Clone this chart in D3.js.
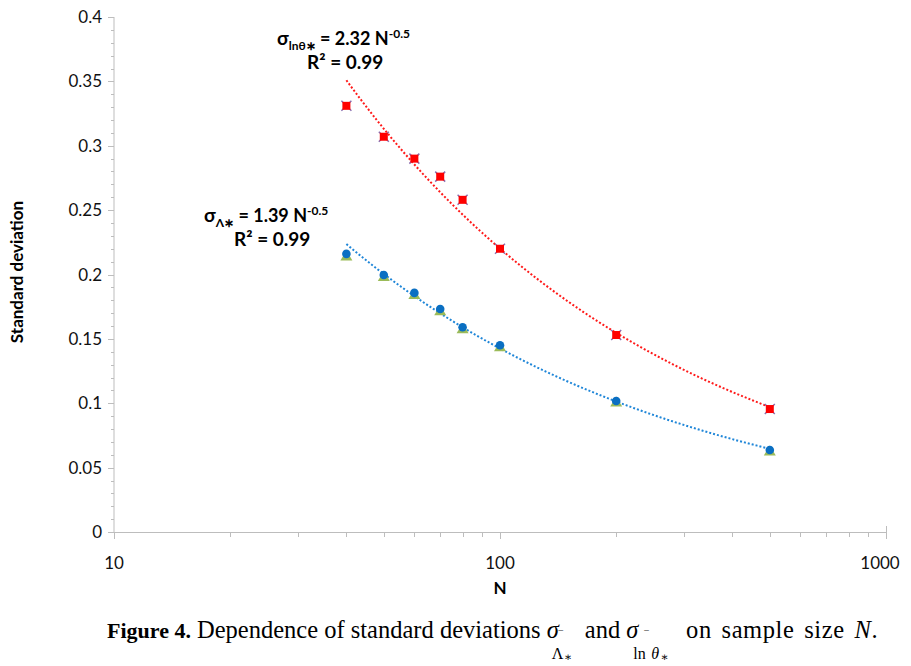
<!DOCTYPE html>
<html>
<head>
<meta charset="utf-8">
<script src="https://cdn.jsdelivr.net/npm/d3@7/dist/d3.min.js"></script>
<style>
  body { margin: 0; background: #fff; }
  svg { display: block; }
  .tick-lbl { font-family: Lato, "Open Sans", sans-serif; font-size: 17px; fill: #111; }
  .ann { font-family: Lato, "Open Sans", sans-serif; font-weight: bold; font-size: 19px; fill: #000; }
  .cap { font-family: "Liberation Serif", "DejaVu Serif", serif; font-size: 24.5px; fill: #000; }
</style>
</head>
<body>
<svg id="chart"></svg>
<script>
// sample sizes
var nValues = [40, 50, 60, 70, 80, 100, 200, 500];
// std. dev. of ln theta* (red squares, purple crosses)
var sdLnTheta  = [0.331, 0.307, 0.290, 0.276, 0.258, 0.220, 0.153, 0.0955];
var sdLnThetaX = [0.331, 0.307, 0.290, 0.276, 0.258, 0.220, 0.153, 0.0955];
// std. dev. of Lambda* (blue circles, green triangles)
var sdLambda    = [0.216, 0.1996, 0.1857, 0.1732, 0.159, 0.145, 0.1017, 0.0637];
var sdLambdaTri = [0.2140, 0.1980, 0.1840, 0.1715, 0.1575, 0.1435, 0.1005, 0.0625];

var yTicks = [0, 0.05, 0.1, 0.15, 0.2, 0.25, 0.3, 0.35, 0.4];
var xTicks = [10, 100, 1000];

var W = 911, H = 666;
var svg = d3.select("#chart").attr("width", W).attr("height", H);

var x = d3.scaleLog().domain([10, 1000]).range([114, 886]);
var y = d3.scaleLinear().domain([0, 0.4]).range([532, 17]);

var axisCol = "#bdbdbd";

// y axis
var yMinor = d3.range(0, 0.4001, 0.01);
svg.append("line").attr("x1", x(10)).attr("x2", x(10)).attr("y1", y(0)).attr("y2", y(0.4))
  .attr("stroke", axisCol).attr("stroke-width", 1);
svg.selectAll(".yminor").data(yMinor).enter().append("line")
  .attr("x1", x(10) - 3).attr("x2", x(10))
  .attr("y1", function(d) { return Math.round(y(d)) + 0.5; })
  .attr("y2", function(d) { return Math.round(y(d)) + 0.5; })
  .attr("stroke", axisCol);
svg.selectAll(".ymajor").data(yTicks).enter().append("line")
  .attr("x1", x(10) - 6).attr("x2", x(10))
  .attr("y1", function(d) { return Math.round(y(d)) + 0.5; })
  .attr("y2", function(d) { return Math.round(y(d)) + 0.5; })
  .attr("stroke", axisCol);
svg.selectAll(".ylbl").data(yTicks).enter().append("text")
  .attr("class", "tick-lbl")
  .attr("x", x(10) - 12).attr("y", function(d) { return y(d) + 6; })
  .attr("text-anchor", "end")
  .text(function(d) { return d3.format("")(d); });

// x axis (log)
var xMinor = [];
[10, 100].forEach(function(dec) { for (var k = 2; k <= 9; k++) xMinor.push(dec * k); });
svg.append("line").attr("x1", x(10)).attr("x2", x(1000)).attr("y1", y(0) + 0.5).attr("y2", y(0) + 0.5)
  .attr("stroke", axisCol);
svg.selectAll(".xminor").data(xMinor).enter().append("line")
  .attr("x1", function(d) { return Math.round(x(d)) + 0.5; })
  .attr("x2", function(d) { return Math.round(x(d)) + 0.5; })
  .attr("y1", y(0)).attr("y2", y(0) + 5)
  .attr("stroke", axisCol);
svg.selectAll(".xmajor").data(xTicks).enter().append("line")
  .attr("x1", function(d) { return Math.round(x(d)) + 0.5; })
  .attr("x2", function(d) { return Math.round(x(d)) + 0.5; })
  .attr("y1", function(d) { return d === 1000 ? y(0) - 6 : y(0); })
  .attr("y2", y(0) + 7)
  .attr("stroke", axisCol);
svg.selectAll(".xlbl").data(xTicks).enter().append("text")
  .attr("class", "tick-lbl")
  .attr("x", function(d) { return x(d) - (d === 1000 ? 6 : 0); })
  .attr("y", y(0) + 37)
  .attr("text-anchor", "middle")
  .text(function(d) { return d; });

// axis titles
svg.append("text").attr("x", x(100)).attr("y", 594).attr("text-anchor", "middle")
  .style("font-family", "Lato, sans-serif").style("font-weight", "bold").style("font-size", "17px")
  .text("N");
svg.append("text").attr("transform", "translate(23,272) rotate(-90)").attr("text-anchor", "middle")
  .style("font-family", "Lato, sans-serif").style("font-weight", "bold").style("font-size", "17px")
  .text("Standard deviation");

// power trendline (least squares on logs, like Excel)
function powerFit(xs, ys) {
  var lx = xs.map(Math.log), ly = ys.map(Math.log);
  var mx = d3.mean(lx), my = d3.mean(ly);
  var sxy = d3.sum(lx, function(v, i) { return (v - mx) * (ly[i] - my); });
  var sxx = d3.sum(lx, function(v) { return (v - mx) * (v - mx); });
  var b = sxy / sxx;
  var a = Math.exp(my - b * mx);
  return function(n) { return a * Math.pow(n, b); };
}
function trend(ys, col) {
  var f = powerFit(nValues, ys);
  var lo = Math.log(nValues[0]), hi = Math.log(nValues[nValues.length - 1]);
  var ns = d3.range(0, 101).map(function(i) { return Math.exp(lo + i / 100 * (hi - lo)); });
  var line = d3.line().x(function(n) { return x(n); }).y(function(n) { return y(f(n)); });
  svg.append("path").attr("d", line(ns)).attr("fill", "none")
    .attr("stroke", col).attr("stroke-width", 2).attr("stroke-dasharray", "2,2");
}
trend(sdLnTheta, "#ff1a1a");
trend(sdLambda, "#1f86d8");

// markers
var pairsLn = nValues.map(function(n, i) { return [n, sdLnTheta[i]]; });
var pairsLnX = nValues.map(function(n, i) { return [n, sdLnThetaX[i]]; });
var pairsL = nValues.map(function(n, i) { return [n, sdLambda[i]]; });
var pairsLT = nValues.map(function(n, i) { return [n, sdLambdaTri[i]]; });

svg.selectAll(".xmk").data(pairsLnX).enter().append("path")
  .attr("transform", function(d) { return "translate(" + x(d[0]) + "," + y(d[1]) + ")"; })
  .attr("d", "M-5,-5L5,5M-5,5L5,-5")
  .attr("stroke", "#8a6fb0").attr("stroke-width", 1.5);
svg.selectAll(".sq").data(pairsLn).enter().append("rect")
  .attr("x", function(d) { return x(d[0]) - 4; })
  .attr("y", function(d) { return y(d[1]) - 4; })
  .attr("width", 8).attr("height", 8)
  .attr("fill", "#ff0000");

svg.selectAll(".tri").data(pairsLT).enter().append("path")
  .attr("transform", function(d) { return "translate(" + x(d[0]) + "," + y(d[1]) + ")"; })
  .attr("d", "M0,-6L6,4L-6,4Z")
  .attr("fill", "#9bbb59");
svg.selectAll(".dot").data(pairsL).enter().append("circle")
  .attr("cx", function(d) { return x(d[0]); })
  .attr("cy", function(d) { return y(d[1]); })
  .attr("r", 4.3)
  .attr("fill", "#0a6fc2");

// equation labels
function eqLabel(xp, yp, sub, coef) {
  var t = svg.append("text").attr("class", "ann").attr("x", xp).attr("y", yp).style("font-size", "18px");
  t.append("tspan").style("font-size", "19px").text("σ");
  t.append("tspan").attr("dy", 5).style("font-size", "12px").text(sub);
  t.append("tspan").attr("dy", -5).text(" = " + coef + " N");
  t.append("tspan").attr("dy", -7).style("font-size", "12px").text("-0.5");
  svg.append("text").attr("class", "ann").attr("x", xp + 30).attr("y", yp + 24).text("R² = 0.99");
}
eqLabel(277, 45, "lnθ∗", "2.32");
eqLabel(204, 222, "Λ∗", "1.39");

// caption
var cap = svg.append("g");
var cx = 107, cy = 638;
function put(txt, opts) {
  opts = opts || {};
  var t = cap.append("text").attr("class", "cap").attr("x", opts.x != null ? opts.x : cx).attr("y", cy + (opts.dy || 0))
    .style("white-space", "pre").text(txt);
  if (opts.bold) t.style("font-weight", "bold");
  if (opts.italic) t.style("font-style", "italic");
  if (opts.size) t.style("font-size", opts.size + "px");
  var w = t.node().getComputedTextLength();
  if (!opts.noAdvance) cx += w;
  return t;
}
put("Figure 4.", { bold: true, size: 22 });
put(" Dependence of standard deviations ");
var s1 = cx;
put("σ", { italic: true });
put("‾", { size: 12, dy: 2 });
put("Λ", { x: s1 + 5, dy: 21, size: 16, noAdvance: true });
put("∗", { x: s1 + 17, dy: 23, size: 12, noAdvance: true });
cx = s1 + 32;
put(" and ");
var s2 = cx;
put("σ", { italic: true });
put("  ‾", { size: 12, dy: 2 });
put("ln", { x: s2 + 7, dy: 21, size: 16, noAdvance: true });
put("θ", { x: s2 + 25, dy: 21, size: 16, italic: true, noAdvance: true });
put("∗", { x: s2 + 34, dy: 23, size: 12, noAdvance: true });
cx = s2 + 50;
var tail = put(" on sample size ", { noAdvance: true }).style("letter-spacing", "0.6px").style("word-spacing", "3px");
tail.append("tspan").style("font-style", "italic").text("N");
tail.append("tspan").text(".");
</script>
</body>
</html>
